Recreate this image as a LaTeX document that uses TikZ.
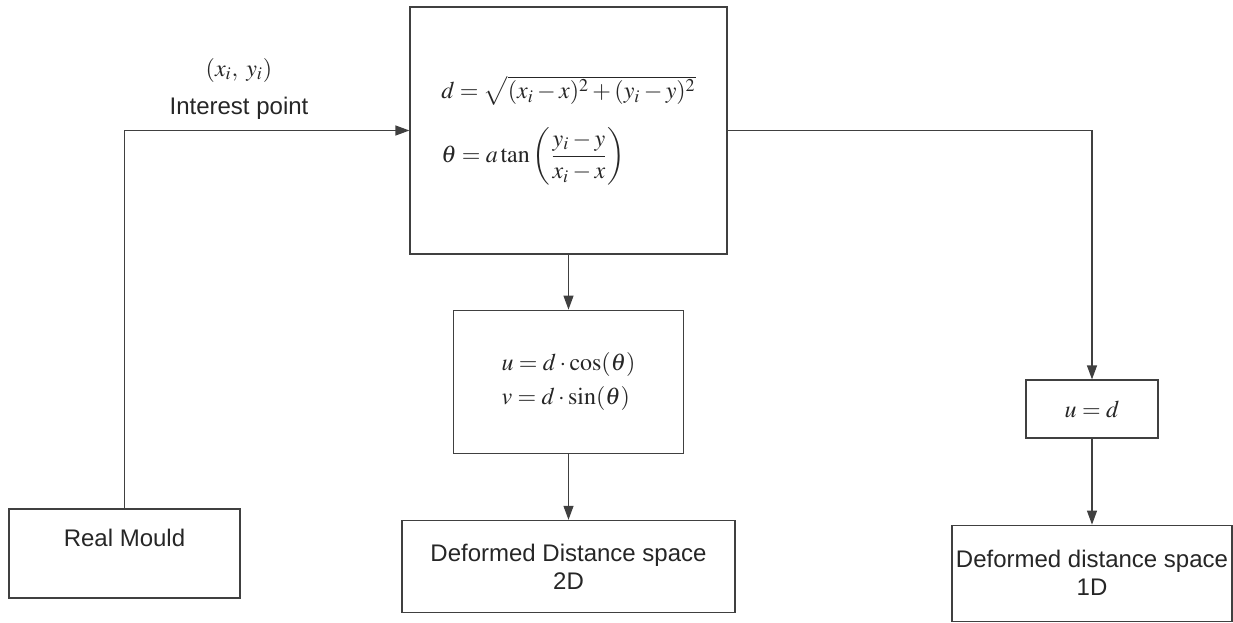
\documentclass[tikz,border=0pt]{standalone}
\usepackage{amsmath}
\usepackage{mathptmx}
\usepackage{fontspec}
\setmainfont{Liberation Sans}
\usepackage{xcolor}
\usetikzlibrary{positioning, arrows.meta}

\begin{document}
\begin{tikzpicture}[
    x=0.5pt, y=-0.5pt,
    node distance=0.6cm and 0.8cm,
    box/.style={rectangle, draw=black!75, line width=0.6pt, align=center, inner sep=2pt, font=\fontsize{12}{14}\selectfont, text=black!85},
    mathbox/.style={box, align=left},
    lbl/.style={inner sep=1pt, font=\fontsize{12}{14}\selectfont, text=black!85},
    arrow/.style={-{Triangle[length=7pt, width=5pt]}, draw=black!75, line width=0.6pt}
]
\useasboundingbox (0,0) rectangle (1233,622);

% Polar transform
\node[mathbox, minimum width=158.5pt, minimum height=123.5pt] (polar) at (568.5,130.5) {$d=\sqrt{(x_i-x)^2+(y_i-y)^2}$\\[10pt]$\theta = a\tan\left(\dfrac{y_i-y}{x_i-x}\right)$};

% 2D branch
\node[mathbox, minimum width=115pt, minimum height=71.5pt, below=27.5pt of polar] (uv) {$u = d\cdot\cos(\theta)$\\[3pt]$v = d\cdot\sin(\theta)$};
\node[box, minimum width=166.5pt, minimum height=46pt, below=33pt of uv] (space2d) {Deformed Distance space\\2D};

% 1D branch
\node[mathbox, minimum width=66pt, minimum height=29pt] (ud) at (1092,409) {$u = d$};
\node[box, minimum width=140pt, minimum height=48pt, below=43pt of ud] (space1d) {Deformed distance space\\1D};

% Input
\node[box, minimum width=115.5pt, minimum height=44.5pt, text height=8.5pt, text depth=16pt] (mould) at (124.5,553.5) {Real Mould};
\node[lbl] (ip_txt) at (239,108) {Interest point};
\node[lbl, above=5pt of ip_txt] (ip_xy) {$(x_i,\; y_i)$};

% Paths
\draw[arrow] (mould.north) |- (polar.west);
\draw[arrow] (polar) -- (uv);
\draw[arrow] (uv) -- (space2d);
\draw[arrow] (polar.east) -| (ud.north);
\draw[arrow] (ud) -- (space1d);

\end{tikzpicture}
\end{document}
